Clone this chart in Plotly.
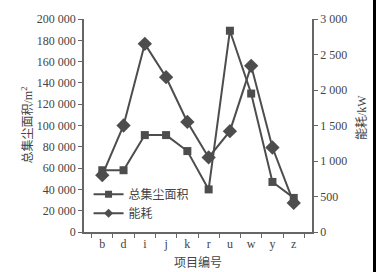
import plotly.graph_objects as go

categories = ["b", "d", "i", "j", "k", "r", "u", "w", "y", "z"]
dust_area = [58000, 58000, 91000, 91000, 76000, 40000, 189000, 130000, 47000, 32000]
energy_kw = [800, 1500, 2650, 2180, 1550, 1050, 1420, 2340, 1190, 410]
series_names = ["总集尘面积", "能耗"]

left_ticks = list(range(0, 200001, 20000))
right_ticks = list(range(0, 3001, 500))

def fmt(v):
    return f"{v:,}".replace(",", " ")

color = "#4d4d4d"
font_family = '"Liberation Serif", "Times New Roman", "Noto Sans CJK SC", serif'

fig = go.Figure()
fig.add_trace(go.Scatter(
    x=categories, y=dust_area, name=series_names[0], mode="lines+markers",
    line=dict(color=color, width=2), showlegend=False, legendgroup="a",
    marker=dict(symbol="square", size=8, color=color),
))
fig.add_trace(go.Scatter(
    x=categories, y=energy_kw, name=series_names[1], mode="lines+markers", yaxis="y2",
    line=dict(color=color, width=2), showlegend=False, legendgroup="b",
    marker=dict(symbol="diamond", size=11, color=color),
))
# legend entries with smaller symbols, as in the reference
fig.add_trace(go.Scatter(
    x=[None], y=[None], name=series_names[0], mode="lines+markers", legendgroup="a",
    line=dict(color=color, width=2), marker=dict(symbol="square", size=7, color=color),
))
fig.add_trace(go.Scatter(
    x=[None], y=[None], name=series_names[1], mode="lines+markers", legendgroup="b",
    line=dict(color=color, width=2), marker=dict(symbol="diamond", size=7, color=color),
))

axis_common = dict(showline=True, linecolor="#666", linewidth=1.5, ticks="outside",
                   tickcolor="#666", ticklen=4, showgrid=False, zeroline=False,
                   automargin=False,
                   tickfont=dict(family=font_family, size=12, color="#444"))

fig.update_layout(
    width=376, height=272,
    margin=dict(l=84, r=64, t=19, b=40),
    paper_bgcolor="white", plot_bgcolor="white",
    font=dict(family=font_family, color="#444"),
    showlegend=True,
    legend=dict(x=0.02, y=0.245, xanchor="left", yanchor="top",
                bgcolor="rgba(0,0,0,0)", font=dict(size=12, color="#444"),
                tracegroupgap=0, itemwidth=30),
    xaxis=dict(type="category", tickson="boundaries",
               title=dict(text="项目编号", font=dict(size=12), standoff=8),
               **axis_common),
    yaxis=dict(range=[0, 200000], tickvals=left_ticks,
               ticktext=[fmt(v) for v in left_ticks],
               **axis_common),
    yaxis2=dict(range=[0, 3000], tickvals=right_ticks,
                ticktext=[fmt(v) for v in right_ticks],
                overlaying="y", side="right",
                **axis_common),
    annotations=[
        dict(text="总集尘面积/m<sup>2</sup>", xref="paper", yref="paper",
             x=(27 - 84) / 228, y=0.50, textangle=-90, showarrow=False,
             xanchor="center", yanchor="middle", font=dict(size=12, color="#444")),
        dict(text="能耗/kW", xref="paper", yref="paper",
             x=(362 - 84) / 228, y=0.535, textangle=-90, showarrow=False,
             xanchor="center", yanchor="middle", font=dict(size=12, color="#444")),
    ],
    shapes=[dict(type="rect", xref="paper", yref="paper",
                 x0=(373 - 84) / 228, x1=(380 - 84) / 228,
                 y0=-0.3, y1=1.2, fillcolor="black", line=dict(width=0), layer="above")],
)

fig.write_html("out.html")
